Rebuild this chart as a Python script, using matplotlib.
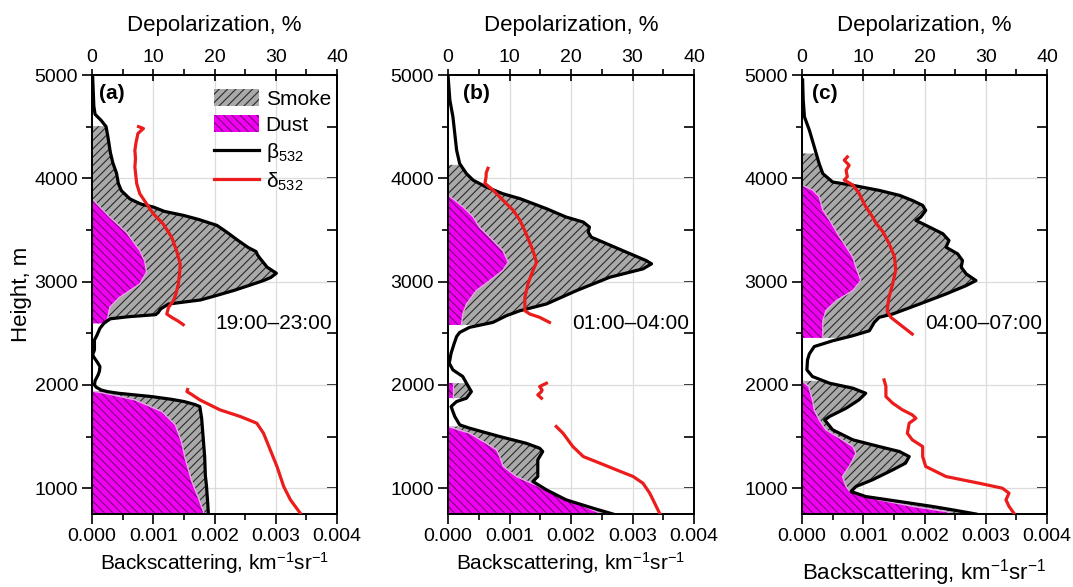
import numpy as np
import matplotlib
matplotlib.use('Agg')
import matplotlib.pyplot as plt
from matplotlib.patches import Patch
from matplotlib.lines import Line2D
from matplotlib.ticker import MultipleLocator, FormatStrFormatter

plt.rcParams['font.family'] = ['Liberation Sans', 'DejaVu Sans']
plt.rcParams['mathtext.fontset'] = 'custom'
plt.rcParams['mathtext.rm'] = 'Liberation Sans'
plt.rcParams['mathtext.it'] = 'Liberation Sans'
plt.rcParams['mathtext.default'] = 'regular'
plt.rcParams['hatch.linewidth'] = 0.8

# ---------------- data ----------------
# Panel (a) 19:00-23:00
beta_a_h = [5000, 4850, 4700, 4620, 4560, 4500, 4400, 4250, 4150, 4050, 3950, 3880, 3800, 3750, 3722, 3680,
            3640, 3600, 3544, 3479, 3400, 3330, 3290, 3260, 3220, 3139, 3081, 3040, 3010, 2960, 2913, 2860,
            2822, 2783, 2735, 2700, 2680, 2660, 2640, 2600, 2548, 2480, 2435, 2339, 2290, 2260, 2226, 2177,
            2130, 2097, 2040, 2000, 1977, 1950, 1935, 1919, 1887, 1860, 1839, 1810, 1790, 1677, 1452, 1300,
            1129, 1016, 850, 750]
beta_a = [0.00001, 0.00002, 0.00003, 0.00005, 0.00015, 0.00023, 0.00026, 0.0003, 0.00034, 0.0004, 0.00043,
          0.00048, 0.00062, 0.0008, 0.001, 0.00118, 0.0015, 0.00175, 0.00204, 0.0022, 0.00238, 0.00255,
          0.00268, 0.0027, 0.00275, 0.00286, 0.00301, 0.00292, 0.0028, 0.00255, 0.00231, 0.002, 0.00177,
          0.00125, 0.00112, 0.00108, 0.00104, 0.0006, 0.0003, 0.0002, 0.00013, 0.00008, 0.00004, 0.00004,
          0.00001, 0.00004, 0.00008, 0.00013, 0.00012, 0.0001, 0.00005, 0.00004, 0.00007, 0.00015, 0.00025,
          0.00043, 0.00097, 0.0013, 0.0015, 0.00168, 0.00176, 0.00179, 0.00182, 0.00184, 0.00185, 0.00187,
          0.00189, 0.0019]
dust_a1_h = [3803, 3722, 3625, 3479, 3301, 3200, 3091, 2977, 2848, 2751, 2654, 2595]
dust_a1 = [0.0, 0.00013, 0.00029, 0.00056, 0.00078, 0.00086, 0.00089, 0.00078, 0.00045, 0.00029, 0.00026, 0.00023]
dust_a2_h = [1940, 1919, 1855, 1742, 1613, 1452, 1290, 1065, 903, 774, 750]
dust_a2 = [0.0, 0.00021, 0.0007, 0.00114, 0.00136, 0.00146, 0.00152, 0.00163, 0.00174, 0.00182, 0.00183]
smoke_a = [(2595, 4505), (750, 1940)]
delta_a1_h = [4500, 4482, 4434, 4350, 4272, 4190, 4110, 3948, 3851, 3754, 3657, 3560, 3430, 3301, 3172, 3080,
              2977, 2880, 2816, 2751, 2686, 2654, 2620, 2583]
delta_a1 = [7.6, 8.4, 7.5, 7.2, 7.0, 7.1, 7.0, 7.3, 7.8, 8.9, 10.0, 11.6, 13.0, 13.8, 14.4, 14.3, 14.1, 13.7,
            13.3, 12.5, 12.2, 13.0, 14.0, 14.9]
delta_a2_h = [1955, 1935, 1910, 1855, 1758, 1694, 1629, 1532, 1371, 1210, 1016, 887, 758]
delta_a2 = [15.6, 15.5, 16.2, 17.6, 20.9, 24.2, 26.9, 28.0, 29.1, 30.2, 31.3, 32.4, 34.0]

# Panel (b) 01:00-04:00
beta_b_h = [5000, 4757, 4595, 4434, 4272, 4142, 4045, 3981, 3916, 3851, 3803, 3706, 3625, 3576, 3528, 3479,
            3430, 3382, 3285, 3204, 3172, 3123, 3042, 2913, 2783, 2718, 2670, 2605, 2557, 2508, 2468, 2400,
            2306, 2210, 2145, 2081, 2016, 1935, 1871, 1839, 1790, 1694, 1613, 1581, 1500, 1435, 1387, 1355,
            1274, 1113, 1065, 984, 887, 806, 750]
beta_b = [0.0, 0.00003, 0.00008, 0.00011, 0.00014, 0.00019, 0.0003, 0.00041, 0.00062, 0.00089, 0.00117,
          0.0016, 0.00192, 0.0022, 0.0023, 0.00228, 0.00233, 0.00252, 0.0029, 0.00322, 0.00331, 0.00317,
          0.00263, 0.00209, 0.0016, 0.00117, 0.00095, 0.00073, 0.00035, 0.00019, 0.00014, 0.0001, 0.00005,
          0.00002, 0.00008, 0.00024, 0.0003, 0.00038, 0.0003, 0.00014, 0.00005, 0.00011, 0.00019, 0.00035,
          0.00084, 0.00127, 0.00149, 0.00154, 0.00146, 0.00146, 0.00138, 0.0016, 0.00192, 0.00236, 0.00268]
dust_b1_h = [3839, 3725, 3625, 3528, 3430, 3301, 3188, 3107, 3010, 2913, 2783, 2686, 2580]
dust_b1 = [0.0, 0.00024, 0.00041, 0.00051, 0.00068, 0.00089, 0.00098, 0.00089, 0.00068, 0.00046, 0.0003,
           0.00024, 0.00022]
dust_b2_h = [2016, 1940, 1871]
dust_b2 = [0.00008, 0.00008, 0.00008]
dust_b3_h = [1597, 1532, 1435, 1371, 1306, 1210, 1113, 1048, 952, 855, 750]
dust_b3 = [0.0, 0.00035, 0.00062, 0.00079, 0.00084, 0.0009, 0.00111, 0.00136, 0.00171, 0.00209, 0.0025]
smoke_b = [(2580, 4130), (1871, 2016), (750, 1597)]
delta_b1_h = [4097, 4050, 4016, 3951, 3887, 3790, 3690, 3593, 3464, 3301, 3188, 3075, 2977, 2848, 2718,
              2686, 2654, 2605]
delta_b1 = [6.5, 6.2, 6.2, 6.0, 7.3, 8.9, 10.6, 11.7, 12.7, 13.8, 14.4, 13.6, 13.0, 12.5, 12.5, 13.3, 14.9, 16.5]
delta_b2_h = [2016, 1984, 1950, 1935, 1903, 1871]
delta_b2 = [16.0, 14.9, 15.3, 15.2, 14.6, 15.2]
delta_b3_h = [1597, 1532, 1403, 1306, 1242, 1177, 1113, 1048, 952, 758]
delta_b3 = [17.6, 18.7, 20.3, 22.0, 24.7, 27.4, 30.1, 31.7, 32.8, 34.4]

# Panel (c) 04:00-07:00
beta_c_h = [4952, 4757, 4595, 4466, 4305, 4142, 4045, 3964, 3932, 3883, 3835, 3786, 3738, 3689, 3625, 3592,
            3528, 3463, 3398, 3333, 3269, 3204, 3139, 3075, 3010, 2961, 2880, 2783, 2686, 2654, 2605, 2524,
            2476, 2427, 2371, 2300, 2242, 2145, 2081, 2016, 1968, 1919, 1855, 1774, 1694, 1661, 1565, 1468,
            1403, 1355, 1306, 1242, 1177, 1081, 1016, 968, 919, 871, 823, 790, 750]
beta_c = [0.00001, 0.00002, 0.00004, 0.00012, 0.0002, 0.00028, 0.00034, 0.0005, 0.00083, 0.00126, 0.00159,
          0.0018, 0.00197, 0.00202, 0.00194, 0.00186, 0.00208, 0.0023, 0.0024, 0.00235, 0.00254, 0.00262,
          0.0026, 0.00268, 0.00284, 0.00268, 0.00235, 0.00192, 0.00148, 0.00126, 0.00118, 0.0011, 0.00083,
          0.0005, 0.0002, 0.00012, 0.00009, 0.00008, 0.00017, 0.00045, 0.00083, 0.00104, 0.00093, 0.00072,
          0.00045, 0.00037, 0.0005, 0.00083, 0.00126, 0.00159, 0.00175, 0.00169, 0.00148, 0.00115, 0.00088,
          0.0008, 0.00104, 0.00159, 0.00213, 0.00246, 0.00284]
dust_c1_h = [3935, 3887, 3822, 3693, 3596, 3435, 3338, 3236, 3139, 3010, 2913, 2816, 2719, 2622, 2524, 2455]
dust_c1 = [0.0, 0.00017, 0.00028, 0.00034, 0.00045, 0.00061, 0.00072, 0.00083, 0.00088, 0.00096, 0.00083,
           0.00056, 0.00039, 0.00034, 0.00034, 0.00034]
dust_c2_h = [2039, 1984, 1855, 1758, 1661, 1565, 1468, 1403, 1339, 1274, 1210, 1113, 1016, 968, 887, 823, 774, 750]
dust_c2 = [0.0, 0.00011, 0.00017, 0.0002, 0.00028, 0.00039, 0.00066, 0.00083, 0.00088, 0.00083, 0.00077,
           0.00066, 0.00072, 0.00078, 0.00126, 0.00181, 0.00235, 0.00246]
smoke_c = [(2455, 4240), (750, 2039)]
delta_c1_h = [4207, 4175, 4126, 4078, 4016, 3983, 3935, 3855, 3725, 3628, 3564, 3483, 3370, 3240, 3110, 2977,
              2848, 2718, 2654, 2589, 2492]
delta_c1 = [7.4, 6.9, 7.7, 7.2, 7.4, 6.9, 8.3, 9.3, 10.4, 11.5, 12.1, 13.2, 14.2, 15.1, 15.3, 14.8, 14.2,
            13.9, 14.5, 15.9, 18.0]
delta_c2_h = [2048, 1984, 1887, 1823, 1758, 1710, 1677, 1629, 1532, 1468, 1403, 1306, 1210, 1113, 1048, 1000,
              952, 887, 823, 758]
delta_c2 = [13.4, 13.7, 13.7, 14.8, 16.4, 18.0, 18.6, 17.5, 17.2, 18.0, 19.7, 19.7, 20.2, 23.5, 28.9, 32.7,
            33.8, 33.3, 33.8, 34.6]

panel_tags = ['(a)', '(b)', '(c)']
time_labels = ['19:00\u201323:00', '01:00\u201304:00', '04:00\u201307:00']

# ---------------- style ----------------
SMOKE_FACE = '#a9a9a9'
SMOKE_HATCH = '#2a2a2a'
DUST_FACE = '#f000f0'
DUST_HATCH = '#7a007a'
DUST_EDGE = '#e6a6e6'
RED = '#ec1c1c'

fig = plt.figure(figsize=(10.73, 5.87), dpi=100)
W, H = 1073.0, 587.0
ax_left_px = [92, 448, 802]
ax_w_px = [245, 246, 245]
ax_bottom = (H - 514) / H
ax_height = 439 / H


def smoke_fill(ax, bh, bx, dusts, ranges):
    bh_a = np.asarray(bh, float)[::-1]
    bx_a = np.asarray(bx, float)[::-1]
    for lo, hi in ranges:
        yy = np.linspace(lo, hi, 400)
        xb = np.interp(yy, bh_a, bx_a)
        xd = np.zeros_like(yy)
        for dh, dx in dusts:
            dh_a = np.asarray(dh, float)[::-1]
            dx_a = np.asarray(dx, float)[::-1]
            m = (yy >= dh_a[0]) & (yy <= dh_a[-1])
            xd[m] = np.interp(yy[m], dh_a, dx_a)
        ax.fill_betweenx(yy, xd, xb, facecolor=SMOKE_FACE, edgecolor='none', lw=0, zorder=2)
        ax.fill_betweenx(yy, xd, xb, facecolor='none', edgecolor=SMOKE_HATCH, hatch='////', lw=0, zorder=2.1)


panels = [
    (beta_a_h, beta_a, [(dust_a1_h, dust_a1), (dust_a2_h, dust_a2)], smoke_a,
     [(delta_a1_h, delta_a1), (delta_a2_h, delta_a2)]),
    (beta_b_h, beta_b, [(dust_b1_h, dust_b1), (dust_b2_h, dust_b2), (dust_b3_h, dust_b3)], smoke_b,
     [(delta_b1_h, delta_b1), (delta_b2_h, delta_b2), (delta_b3_h, delta_b3)]),
    (beta_c_h, beta_c, [(dust_c1_h, dust_c1), (dust_c2_h, dust_c2)], smoke_c,
     [(delta_c1_h, delta_c1), (delta_c2_h, delta_c2)]),
]
tag_x = [0.03, 0.06, 0.04]
xlabel_size = [15, 15, 16]
xlabel_pad = [4, 4, 9]

for i, (bh, bx, dusts, sranges, deltas) in enumerate(panels):
    ax = fig.add_axes([ax_left_px[i] / W, ax_bottom, ax_w_px[i] / W, ax_height])
    ax.set_xlim(0, 0.004)
    ax.set_ylim(750, 5000)
    ax.grid(True, which='major', color='#dcdcdc', lw=0.9)
    ax.set_axisbelow(True)

    smoke_fill(ax, bh, bx, dusts, sranges)
    for dh, dx in dusts:
        ax.fill_betweenx(dh, 0, dx, facecolor=DUST_FACE, edgecolor='none', lw=0, zorder=2.2)
        ax.fill_betweenx(dh, 0, dx, facecolor='none', edgecolor=DUST_HATCH, hatch='\\\\\\\\', lw=0, zorder=2.3)
        ax.plot(dx, dh, color=DUST_EDGE, lw=1.0, zorder=2.4)
    ax.plot(bx, bh, color='black', lw=2.3, zorder=3, solid_joinstyle='round')

    ax.xaxis.set_major_locator(MultipleLocator(0.001))
    ax.xaxis.set_minor_locator(MultipleLocator(0.0005))
    ax.xaxis.set_major_formatter(FormatStrFormatter('%.3f'))
    ax.yaxis.set_major_locator(MultipleLocator(1000))
    ax.yaxis.set_minor_locator(MultipleLocator(500))
    ax.tick_params(which='major', direction='out', length=7, width=1.2, labelsize=14, pad=3)
    ax.tick_params(which='minor', direction='out', length=4, width=1.2)
    for s in ax.spines.values():
        s.set_linewidth(1.3)
    ax.set_xlabel('Backscattering, km$^{-1}$sr$^{-1}$', fontsize=xlabel_size[i], labelpad=xlabel_pad[i])
    if i == 0:
        ax.set_ylabel('Height, m', fontsize=16, labelpad=2)

    sec = ax.secondary_yaxis('right')
    sec.yaxis.set_major_locator(MultipleLocator(500))
    sec.tick_params(axis='y', direction='in', length=7, width=1.2, labelright=False, labelleft=False)
    sec.spines['right'].set_linewidth(1.3)

    ax2 = ax.twiny()
    ax2.set_xlim(0, 40)
    for dh, dx in deltas:
        ax2.plot(dx, dh, color=RED, lw=2.3, zorder=4, solid_joinstyle='round')
    ax2.xaxis.set_major_locator(MultipleLocator(10))
    ax2.xaxis.set_minor_locator(MultipleLocator(5))
    ax2.tick_params(which='major', direction='inout', length=9, width=1.2, labelsize=14, pad=2)
    ax2.tick_params(which='minor', direction='out', length=4, width=1.2)
    ax2.set_xlabel('Depolarization, %', fontsize=16, labelpad=13)
    for s in ax2.spines.values():
        s.set_linewidth(1.3)

    ax2.text(tag_x[i], 0.958, panel_tags[i], transform=ax2.transAxes, fontsize=15,
             fontweight='bold', ha='left', va='center', zorder=6)
    ax2.text(0.98, 0.435, time_labels[i], transform=ax2.transAxes, fontsize=15,
             ha='right', va='center', zorder=6)

    if i == 0:
        handles = [
            Patch(facecolor=SMOKE_FACE, edgecolor=SMOKE_HATCH, hatch='////', lw=0),
            Patch(facecolor=DUST_FACE, edgecolor=DUST_HATCH, hatch='\\\\\\\\', lw=0),
            Line2D([], [], color='black', lw=2.3),
            Line2D([], [], color=RED, lw=2.3),
        ]
        labels = ['Smoke', 'Dust', '\u03b2$_{532}$', '\u03b4$_{532}$']
        leg = ax2.legend(handles, labels, loc='upper right', frameon=False, fontsize=15,
                         handlelength=2.2, handleheight=0.9, borderaxespad=0.15,
                         labelspacing=0.3, handletextpad=0.3, borderpad=0.2,
                         bbox_to_anchor=(1.005, 0.985))
        leg.set_zorder(7)

fig.savefig('out.png', dpi=100)
